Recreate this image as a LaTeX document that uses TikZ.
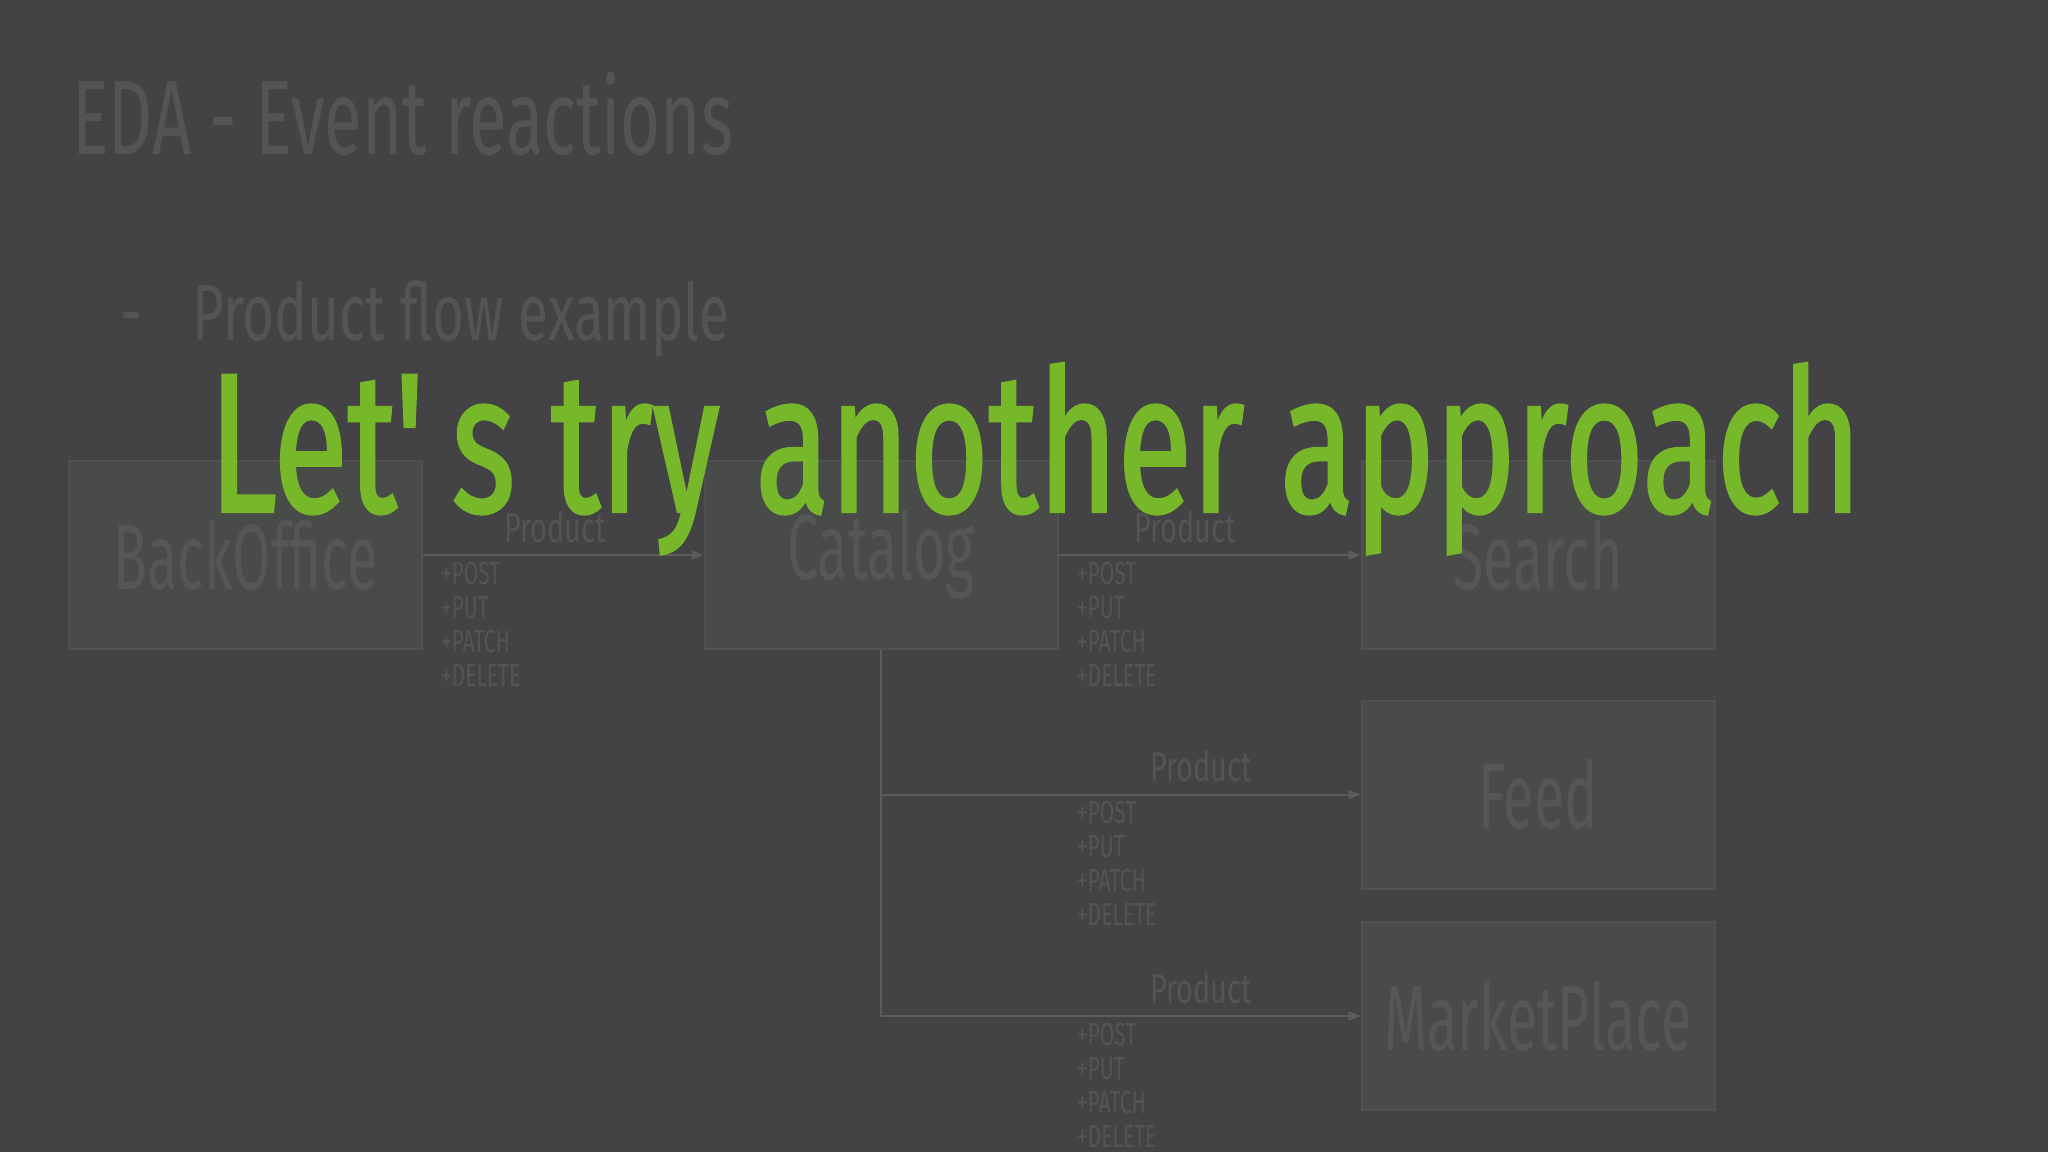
\documentclass[tikz,border=0pt]{standalone}
\usepackage{fontspec}
\usepackage{graphicx}
\usetikzlibrary{arrows.meta}
\newfontfamily\osw[FakeStretch=0.6]{Fira Sans}
\newfontfamily\oswtitle[FakeStretch=0.65]{Fira Sans}
\newfontfamily\oswsub[FakeStretch=0.69]{Fira Sans}
\newfontfamily\oswsmall[FakeStretch=0.66]{Fira Sans}
\newfontfamily\oswbig[FakeStretch=0.6,FakeBold=1.2]{Fira Sans}
\definecolor{bg}{RGB}{67,67,69}
\definecolor{dim}{RGB}{84,84,85}
\definecolor{boxfill}{RGB}{72,75,72}
\definecolor{boxline}{RGB}{80,82,80}
\definecolor{boxtext}{RGB}{84,87,84}
\definecolor{wire}{RGB}{92,92,93}
\definecolor{lime}{RGB}{118,184,42}
\tikzset{
  svc/.style={draw=boxline, line width=2bp, fill=boxfill, minimum width=353bp, minimum height=188bp, inner sep=0pt, text=boxtext, font=\osw\fontsize{93}{100}\selectfont},
  flow/.style={draw=wire, line width=2bp, -{Triangle[length=12bp,width=9bp]}},
  wireline/.style={draw=wire, line width=2bp},
  evt/.style={anchor=base, inner sep=0pt, text=dim, font=\oswsub\fontsize{42}{44}\selectfont},
  verb/.style={anchor=base west, inner sep=0pt, text=dim, font=\oswsmall\fontsize{32}{34}\selectfont},
}
\begin{document}
\begin{tikzpicture}[x=1bp,y=-1bp]
\fill[bg] (0,0) rectangle (2048,1152);
\useasboundingbox (0,0) rectangle (2048,1152);
% headings
\node[anchor=base west, inner sep=0pt, text=dim, font=\oswtitle\fontsize{106}{110}\selectfont] (title) at (72,154) {EDA - Event reactions};
\node[anchor=base west, inner sep=0pt, text=dim, font=\oswsub\fontsize{80}{84}\selectfont] (dash) at (120,340) {-};
\node[anchor=base west, inner sep=0pt, text=dim, font=\oswsub\fontsize{80}{84}\selectfont] (sub) at (192,340) {Product flow example};
% services
\node[svc] (bo) at (245.5,555) {BackOffice};
\node[svc] (cat) at (881,555) {Catalog};
\node[svc] (search) at (1538,555) {Search};
\node[svc] (feed) at (1538,794.5) {Feed};
\node[svc] (mp) at (1538,1016) {MarketPlace};
% connectors
\draw[flow] (bo.east) -- (cat.west);
\draw[flow] (cat.east) -- (search.west);
\coordinate (branchend) at (cat.south |- mp.west);
\draw[wireline] (cat.south) -- (branchend);
\draw[flow] (cat.south |- feed.west) -- (feed.west);
\draw[flow] (branchend) -- (mp.west);
% labels
\node[evt] (e1) at (555,542) {Product};
\node[evt] (e2) at (1185,542) {Product};
\node[evt] (e3) at (1201,781) {Product};
\node[evt] (e4) at (1201,1003) {Product};
\foreach \x/\y/\n in {441/573/a, 1077/573/b, 1077/812/c, 1077/1034/d}{
  \node[verb] (\n1) at (\x,\y+11) {+POST};
  \node[verb] (\n2) at (\x,\y+45) {+PUT};
  \node[verb] (\n3) at (\x,\y+79) {+PATCH};
  \node[verb] (\n4) at (\x,\y+113) {+DELETE};
}
% overlay
\node[anchor=base west, inner sep=0pt, text=lime, font=\oswbig\fontsize{200}{210}\selectfont] (overlay) at (209,512) {\resizebox{1652bp}{\height}{Let'\hspace{0.12em}s try another approach}};
\end{tikzpicture}
\end{document}
